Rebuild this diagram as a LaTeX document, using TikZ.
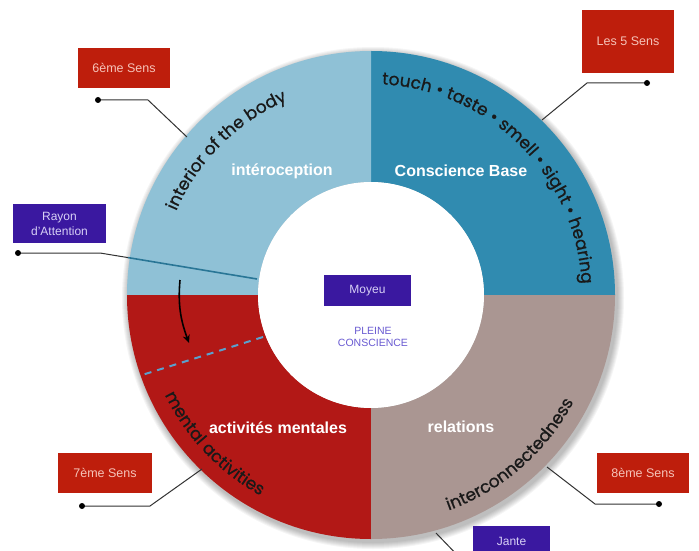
\documentclass[tikz,border=0pt]{standalone}
\usepackage{fontspec}
\setmainfont{Liberation Sans}
\newfontfamily\arcfont{Poppins}[FakeBold=0.8]
\usetikzlibrary{decorations.text,arrows.meta,calc}
\definecolor{ltblue}{RGB}{143,193,214}
\definecolor{dkblue}{RGB}{48,139,176}
\definecolor{ringred}{RGB}{178,24,22}
\definecolor{taupe}{RGB}{170,150,146}
\definecolor{boxred}{RGB}{190,30,12}
\definecolor{boxpurple}{RGB}{58,24,160}
\definecolor{pinktxt}{RGB}{245,195,185}
\definecolor{lavtxt}{RGB}{215,208,245}
\definecolor{pleine}{RGB}{105,90,210}
\definecolor{dashblue}{RGB}{90,160,205}
\definecolor{linegray}{RGB}{50,50,50}
\newcommand\ringsector[3]{%
  \fill[#1] ($(C)+(#2:113)$) arc (#2:#3:113) -- ($(C)+(#3:244)$) arc (#3:#2:244) -- cycle;}
\begin{document}
\begin{tikzpicture}[x=1pt,y=1pt,
  redbox/.style={fill=boxred, text=pinktxt, minimum width=92pt, minimum height=40pt, inner sep=0pt, font=\fontsize{12.5}{15}\selectfont, align=center},
  purplebox/.style={fill=boxpurple, text=lavtxt, inner sep=0pt, font=\fontsize{12}{15}\selectfont, align=center},
  seglabel/.style={text=white, font=\fontsize{16}{18}\selectfont\bfseries},
  leader/.style={draw=linegray, line width=1pt},
  arctext/.style={decorate, decoration={text along path, text align=center, text color=black!90}},
]
\useasboundingbox (0,0) rectangle (699,550);
\clip (0,0) rectangle (699,550);
\fill[white] (0,0) rectangle (699,550);
\coordinate (C) at (371,255);
% soft shadow
\foreach \k in {1,...,7}{
  \fill[black,opacity=0.04] ($(C)+(2,-3)$) circle ({244+\k});
}
% ring sectors
\ringsector{dkblue}{0}{90}
\ringsector{ltblue}{90}{180}
\ringsector{ringred}{180}{270}
\ringsector{taupe}{270}{360}
\fill[white] (C) circle (113);

% arc texts
\path[arctext, decoration={text={|\arcfont\fontsize{17}{17}\selectfont|interior of the body}}]
  ($(C)+(180:212)$) arc (180:90:212);
\path[arctext, decoration={text={|\arcfont\fontsize{17}{17}\selectfont|touch • taste • smell • sight • hearing}}]
  ($(C)+(95:211)$) arc (95:-5:211);
\path[arctext, decoration={text={|\arcfont\fontsize{17}{17}\selectfont|mental activities}}]
  ($(C)+(188:229)$) arc (188:259:229);
\path[arctext, decoration={text={|\arcfont\fontsize{17}{17}\selectfont|interconnectedness}}]
  ($(C)+(276:229)$) arc (276:346:229);

% segment labels
\node[seglabel] (intero) at (282,379) {intéroception};
\node[seglabel] (base) at (461,379) {Conscience Base};
\node[seglabel] (mentales) at (278,122) {activités mentales};
\node[seglabel] (relations) at (461,123) {relations};

% centre
\node[purplebox, minimum width=87pt, minimum height=31pt] (moyeu) at (367.5,259.5) {Moyeu};
\node[text=pleine, align=center, font=\fontsize{10.5}{11.5}\selectfont] (pleine) at (373,213) {PLEINE\\CONSCIENCE};

% attention ray and dashed line
\coordinate (rayD) at (18,297);
\coordinate (rayK) at (100,297);
\coordinate (rayO) at (128,292.4);
\coordinate (rayI) at (257,271);
\draw[leader] (rayD) -- (rayK) -- (rayO);
\draw[dkblue!85!black, line width=1.6pt] (rayO) -- (rayI);
\fill[black] (rayD) circle (3);
\coordinate (dashI) at (263,213);
\coordinate (dashO) at (142,175);
\draw[dashblue, line width=2pt, dash pattern=on 7pt off 6pt] (dashI) -- (dashO);
\coordinate (arrS) at (180,270);
\coordinate (arrE) at (189,207);
\draw[line width=1.6pt, -{Stealth[length=8pt,width=7pt]}] (arrS) to[out=-95,in=110] (arrE);

% label boxes
\node[redbox] (sixieme) at (124,482) {6ème Sens};
\node[redbox, minimum height=63pt] (cinq) at (628,508.5) {Les 5 Sens};
\node[purplebox, minimum width=93pt, minimum height=39pt] (rayon) at (59.5,326.5) {Rayon\\d’Attention};
\node[redbox, minimum width=94pt] (septieme) at (105,77) {7ème Sens};
\node[redbox] (huitieme) at (643,77) {8ème Sens};
\node[purplebox, minimum width=77pt, minimum height=30pt] (jante) at (511.5,9) {Jante};

% leaders
\coordinate (sixD) at (98,450);
\coordinate (sixK) at (148,450);
\coordinate (sixE) at (187,413);
\draw[leader] (sixD) -- (sixK) -- (sixE);
\fill (sixD) circle (3);
\coordinate (cinqD) at (647,467);
\coordinate (cinqK) at (587,467);
\coordinate (cinqE) at (542,430);
\draw[leader] (cinqD) -- (cinqK) -- (cinqE);
\fill (cinqD) circle (3);
\coordinate (septD) at (82,44);
\coordinate (septK) at (150,44);
\coordinate (septE) at (202,81);
\draw[leader] (septD) -- (septK) -- (septE);
\fill (septD) circle (3);
\coordinate (huitD) at (659,46);
\coordinate (huitK) at (595,46);
\coordinate (huitE) at (547,83);
\draw[leader] (huitD) -- (huitK) -- (huitE);
\fill (huitD) circle (3);
\coordinate (janteS) at (436,17);
\coordinate (janteE) at (462,-10);
\draw[leader] (janteS) -- (janteE);
\end{tikzpicture}
\end{document}
